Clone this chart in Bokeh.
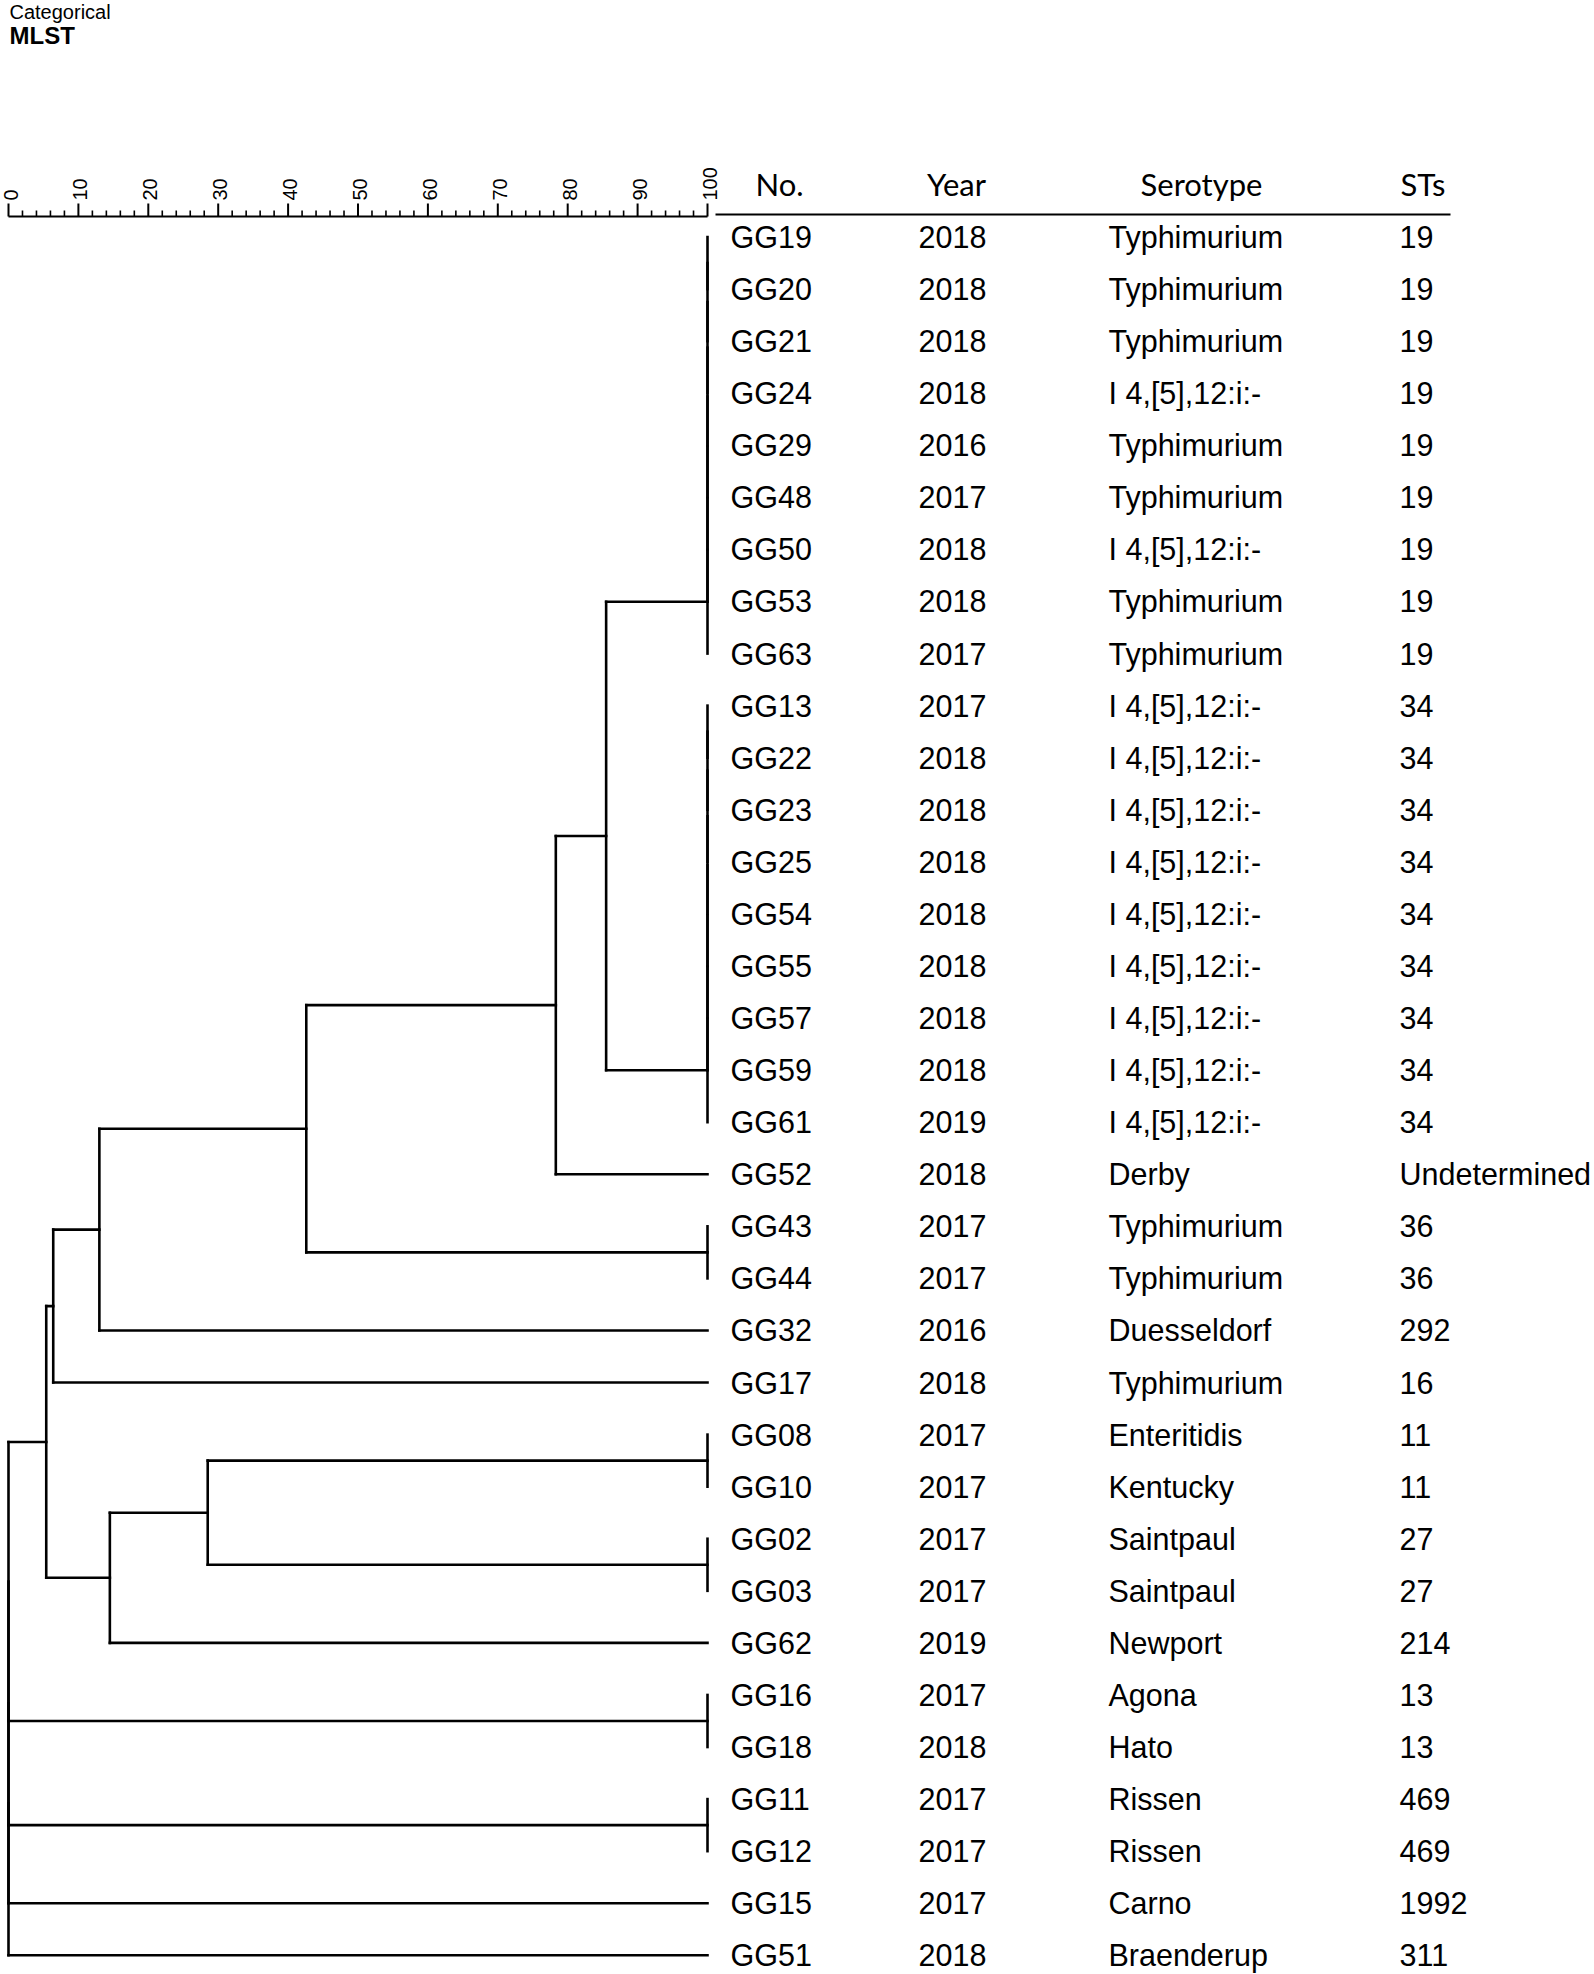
import math
from bokeh.plotting import figure
from bokeh.models import Range1d
from bokeh.core.properties import value
from bokeh.embed import file_html
from bokeh.resources import INLINE

# ---------------- data ----------------
isolates = ["GG19", "GG20", "GG21", "GG24", "GG29", "GG48", "GG50", "GG53", "GG63",
            "GG13", "GG22", "GG23", "GG25", "GG54", "GG55", "GG57", "GG59", "GG61",
            "GG52", "GG43", "GG44", "GG32", "GG17", "GG08", "GG10", "GG02", "GG03",
            "GG62", "GG16", "GG18", "GG11", "GG12", "GG15", "GG51"]
years = ["2018", "2018", "2018", "2018", "2016", "2017", "2018", "2018", "2017",
         "2017", "2018", "2018", "2018", "2018", "2018", "2018", "2018", "2019",
         "2018", "2017", "2017", "2016", "2018", "2017", "2017", "2017", "2017",
         "2019", "2017", "2018", "2017", "2017", "2017", "2018"]
MON = "I 4,[5],12:i:-"
serotypes = ["Typhimurium", "Typhimurium", "Typhimurium", MON, "Typhimurium", "Typhimurium",
             MON, "Typhimurium", "Typhimurium",
             MON, MON, MON, MON, MON, MON, MON, MON, MON,
             "Derby", "Typhimurium", "Typhimurium", "Duesseldorf", "Typhimurium",
             "Enteritidis", "Kentucky", "Saintpaul", "Saintpaul", "Newport",
             "Agona", "Hato", "Rissen", "Rissen", "Carno", "Braenderup"]
sts = ["19"] * 9 + ["34"] * 9 + ["Undetermined", "36", "36", "292", "16", "11", "11",
                                 "27", "27", "214", "13", "13", "469", "469", "1992", "311"]

# merges (child_a, child_b, similarity %); leaves are 0..33, merge k creates node 34+k
merges = [
    (0, 1, 100), (34, 2, 100), (35, 3, 100), (36, 4, 100), (37, 5, 100),
    (38, 6, 100), (39, 7, 100), (40, 8, 100),                 # ST19 cluster -> 41
    (9, 10, 100), (42, 11, 100), (43, 12, 100), (44, 13, 100), (45, 14, 100),
    (46, 15, 100), (47, 16, 100), (48, 17, 100),              # ST34 cluster -> 49
    (41, 49, 85.5),                                           # 50
    (50, 18, 78.3),                                           # 51
    (19, 20, 100),                                            # 52
    (51, 52, 42.6),                                           # 53
    (53, 21, 13.0),                                           # 54
    (54, 22, 6.4),                                            # 55
    (23, 24, 100),                                            # 56
    (25, 26, 100),                                            # 57
    (56, 57, 28.5),                                           # 58
    (58, 27, 14.5),                                           # 59
    (55, 59, 5.4),                                            # 60
    (28, 29, 100),                                            # 61
    (30, 31, 100),                                            # 62
    (60, 61, 0), (63, 62, 0), (64, 32, 0), (65, 33, 0),       # root
]

scale_major = [0, 10, 20, 30, 40, 50, 60, 70, 80, 90, 100]
scale_minor = [v for v in range(0, 101, 2) if v % 10 != 0]
headers = ["No.", "Year", "Serotype", "STs"]

# ---------------- figure ----------------
W, H = 1594, 1974
PX_PER_UNIT = 6.99
x0 = 8.0
row0, row_h = 236.5, 52.07

p = figure(width=W, height=H,
           x_range=Range1d(-x0 / PX_PER_UNIT, (W - x0) / PX_PER_UNIT),
           y_range=Range1d((H - row0) / row_h, -row0 / row_h),
           x_axis_location=None, y_axis_location=None,
           output_backend="svg", toolbar_location=None, min_border=0)
p.extra_x_ranges = {"px": Range1d(0, W)}
p.extra_y_ranges = {"py": Range1d(H, 0)}
p.grid.visible = False
p.outline_line_color = None
p.background_fill_color = "white"
p.border_fill_color = "white"

ARIAL = value("Liberation Sans")
LATO = value("Lato")

# ---------------- dendrogram ----------------
n = len(isolates)
pos = [float(i) for i in range(n)]
hgt = [100.0] * n
sx0, sy0, sx1, sy1 = [], [], [], []
for a, b, s in merges:
    for c in (a, b):
        if abs(hgt[c] - s) > 1e-9:
            sx0.append(hgt[c]); sy0.append(pos[c]); sx1.append(s); sy1.append(pos[c])
    if abs(pos[a] - pos[b]) > 1e-9:
        sx0.append(s); sy0.append(pos[a]); sx1.append(s); sy1.append(pos[b])
    pos.append((pos[a] + pos[b]) / 2.0)
    hgt.append(float(s))

p.segment(x0=sx0, y0=sy0, x1=sx1, y1=sy1, line_color="black", line_width=2.6,
          line_cap="square")

# ---------------- similarity scale ----------------
axis_y = 216
p.segment(x0=[0], y0=[axis_y], x1=[100], y1=[axis_y], y_range_name="py",
          line_color="black", line_width=2)
p.segment(x0=scale_major, y0=[axis_y] * len(scale_major), x1=scale_major,
          y1=[axis_y - 13] * len(scale_major), y_range_name="py",
          line_color="black", line_width=2)
p.segment(x0=scale_minor, y0=[axis_y] * len(scale_minor), x1=scale_minor,
          y1=[axis_y - 6] * len(scale_minor), y_range_name="py",
          line_color="black", line_width=1.6)
p.text(x=scale_major, y=[axis_y - 16] * len(scale_major),
       text=[str(v) for v in scale_major], y_range_name="py",
       angle=math.pi / 2, text_align="left", text_baseline="middle",
       x_offset=2, text_font=ARIAL, text_font_size="20px", text_color="black")

# ---------------- title text ----------------
p.text(x=[9], y=[11], text=["Categorical"], x_range_name="px", y_range_name="py",
       text_align="left", text_baseline="middle", text_font=ARIAL,
       text_font_size="20px", text_color="black")
p.text(x=[9], y=[35], text=["MLST"], x_range_name="px", y_range_name="py",
       text_align="left", text_baseline="middle", text_font=ARIAL,
       text_font_size="24px", text_font_style="bold", text_color="black")

# ---------------- table ----------------
p.segment(x0=[715], y0=[214], x1=[1450], y1=[214], x_range_name="px", y_range_name="py",
          line_color="black", line_width=2.2)
p.text(x=[755, 956, 1201, 1400], y=[183] * 4, text=headers,
       x_range_name="px", y_range_name="py",
       text_align=["left", "center", "center", "left"], text_baseline="middle",
       text_font=LATO, text_font_size="31px", text_color="black")

rows = list(range(n))
for xcol, col in ((730, isolates), (918, years), (1108, serotypes), (1399, sts)):
    p.text(x=[xcol] * n, y=rows, text=col, x_range_name="px",
           text_align="left", text_baseline="middle", text_font=ARIAL,
           text_font_size="30.5px", text_color="black")

open("out.html", "w").write(file_html(p, INLINE))
